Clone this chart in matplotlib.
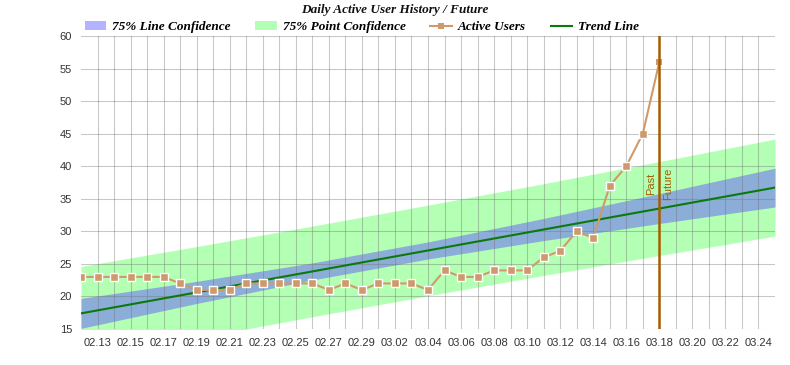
import matplotlib
matplotlib.use("Agg")
import matplotlib.pyplot as plt
from matplotlib.patches import Patch
from matplotlib.lines import Line2D
import datetime as dt

# ---------------- data ----------------
user_dates = ["2024-02-12", "2024-02-13", "2024-02-14", "2024-02-15", "2024-02-16", "2024-02-17",
              "2024-02-18", "2024-02-19", "2024-02-20", "2024-02-21", "2024-02-22", "2024-02-23",
              "2024-02-24", "2024-02-25", "2024-02-26", "2024-02-27", "2024-02-28", "2024-02-29",
              "2024-03-01", "2024-03-02", "2024-03-03", "2024-03-04", "2024-03-05", "2024-03-06",
              "2024-03-07", "2024-03-08", "2024-03-09", "2024-03-10", "2024-03-11", "2024-03-12",
              "2024-03-13", "2024-03-14", "2024-03-15", "2024-03-16", "2024-03-17", "2024-03-18"]
active_users = [23, 23, 23, 23, 23, 23,
                22, 21, 21, 21, 22, 22,
                22, 22, 22, 21, 22, 21,
                22, 22, 22, 21, 24, 23,
                23, 24, 24, 24, 26, 27,
                30, 29, 37, 40, 45, 56]

band_dates = ["2024-02-12", "2024-02-19", "2024-02-26", "2024-03-04",
              "2024-03-11", "2024-03-18", "2024-03-25"]
trend_values = [17.40, 20.62, 23.84, 27.06, 30.28, 33.50, 36.72]
line_conf_low = [15.10, 18.92, 22.53, 25.75, 28.58, 31.20, 33.74]
line_conf_high = [19.70, 22.32, 25.15, 28.37, 31.98, 35.80, 39.70]
point_conf_low = [10.19, 13.58, 16.88, 20.10, 23.24, 26.29, 29.27]
point_conf_high = [24.61, 27.66, 30.80, 34.02, 37.32, 40.71, 44.17]

split_date = "2024-03-18"
x_start, x_end = "2024-02-12", "2024-03-25"
y_ticks = [15, 20, 25, 30, 35, 40, 45, 50, 55, 60]

title = "Daily Active User History / Future"
legend_labels = ["75% Line Confidence", "75% Point Confidence", "Active Users", "Trend Line"]

# ---------------- style ----------------
C_USERS = "#cf9a6b"
C_TREND = "#0a7a0a"
C_LINEBAND = "#8badd8"
C_POINTBAND = "#b3ffb3"
C_SPLIT = "#a65c00"

def to_dt(s):
    return dt.datetime.strptime(s, "%Y-%m-%d")

ud = [to_dt(s) for s in user_dates]
bd = [to_dt(s) for s in band_dates]
x0, x1 = to_dt(x_start), to_dt(x_end)
xs = to_dt(split_date)

fig = plt.figure(figsize=(7.9, 3.65), dpi=100)
ax = fig.add_axes([81 / 790, 1 - 329 / 365, (775 - 81) / 790, (329 - 36) / 365])

ax.fill_between(bd, point_conf_low, point_conf_high, color=C_POINTBAND, lw=0, zorder=1)
ax.fill_between(bd, line_conf_low, line_conf_high, color=C_LINEBAND, lw=0, zorder=1.1)

ax.plot(bd, trend_values, color=C_TREND, lw=1.5, zorder=4)
ax.plot(ud[:-1], active_users[:-1], color=C_USERS, lw=1.5, marker="s", ms=6,
        mfc=C_USERS, mec="white", mew=1, zorder=5)
ax.plot(ud[-2:], active_users[-2:], color=C_USERS, lw=1.5, zorder=5)
ax.plot([ud[-1]], [active_users[-1]], color=C_USERS, marker="s", ms=5, mew=0, ls="none", zorder=5)

ax.axvline(xs, color=C_SPLIT, lw=1.8, zorder=6)
ax.annotate("Past", xy=(xs, 37.3), xytext=(-6, 0), textcoords="offset points",
            rotation=90, ha="center", va="center", color=C_SPLIT, fontsize=8,
            family="Liberation Sans", zorder=7)
ax.annotate("Future", xy=(xs, 37.3), xytext=(6, 0), textcoords="offset points",
            rotation=90, ha="center", va="center", color=C_SPLIT, fontsize=8,
            family="Liberation Sans", zorder=7)

ax.set_xlim(x0, x1)
ax.set_ylim(y_ticks[0], y_ticks[-1])
ax.set_yticks(y_ticks)
ax.set_yticklabels([str(v) for v in y_ticks])

all_days = [x0 + dt.timedelta(days=i) for i in range(1, (x1 - x0).days)]
ax.set_xticks(all_days)
ax.set_xticklabels([d.strftime("%m.%d") if i % 2 == 0 else "" for i, d in enumerate(all_days)])

ax.set_axisbelow(False)
ax.grid(True, color=(0.45, 0.45, 0.45), alpha=0.4, lw=0.75, zorder=2)
for sp in ax.spines.values():
    sp.set_visible(False)
ax.tick_params(length=0, labelsize=8, labelcolor="#333333", pad=6.5)
for lab in ax.get_xticklabels() + ax.get_yticklabels():
    lab.set_family("Liberation Sans")

fig.text(0.5, 1 - 10 / 365, title, ha="center", va="center", fontsize=9.5,
         family="Liberation Serif", style="italic", weight="bold", color="#111111")

handles = [Patch(facecolor="#b3b3ff", edgecolor="none"),
           Patch(facecolor=C_POINTBAND, edgecolor="none"),
           Line2D([0], [0], color=C_USERS, lw=1.5, marker="s", ms=4, mew=0),
           Line2D([0], [0], color=C_TREND, lw=1.5)]
fig.legend(handles, legend_labels, loc="center", bbox_to_anchor=(362 / 790, 1 - 27 / 365),
           ncol=4, frameon=False, handlelength=1.6, handleheight=0.6, handletextpad=0.5,
           columnspacing=1.85, prop={"family": "Liberation Serif", "style": "italic",
                                     "weight": "bold", "size": 9.5})

fig.savefig("out.png", dpi=100)
